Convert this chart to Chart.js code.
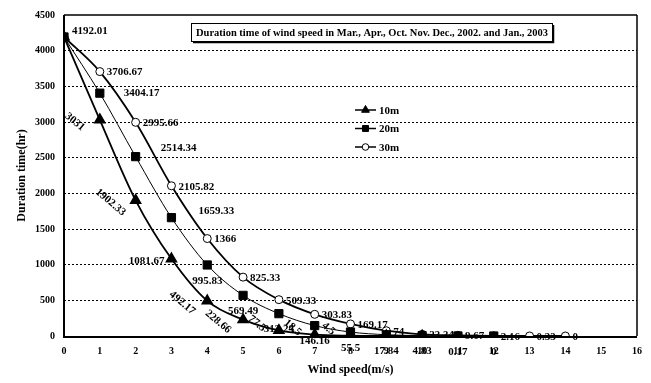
<!DOCTYPE html>
<html>
<head>
<meta charset="utf-8">
<script src="https://cdn.jsdelivr.net/npm/chart.js@4/dist/chart.umd.min.js"></script>
<style>
  html, body { margin: 0; padding: 0; background: #fff; }
  #wrap { width: 651px; height: 383px; position: relative; }
</style>
</head>
<body>
<div id="wrap"><canvas id="c" width="651" height="383"></canvas></div>
<script>
// Wind speed classes (m/s)
const windSpeed = [0, 1, 2, 3, 4, 5, 6, 7, 8, 9, 10, 11, 12, 13, 14];
// Duration time (hr) at each height
const hours10m = [4192.01, 3031, 1902.33, 1081.67, 492.17, 228.66, 77.5, 18.5, 4.5, 1.17, 0];
const hours20m = [4192.01, 3404.17, 2514.34, 1659.33, 995.83, 569.49, 313.24, 146.16, 55.5, 17.84, 4.83, 0.17, 0];
const hours30m = [4192.01, 3706.67, 2995.66, 2105.82, 1366, 825.33, 509.33, 303.83, 169.17, 74.00, 23.34, 9.67, 2.16, 0.33, 0];
// Axis ticks
const xTicks = [0, 1, 2, 3, 4, 5, 6, 7, 8, 9, 10, 11, 12, 13, 14, 15, 16];
const yTicks = [0, 500, 1000, 1500, 2000, 2500, 3000, 3500, 4000, 4500];
const seriesNames = ['10m', '20m', '30m'];
const chartTitle = 'Duration time of wind speed in Mar., Apr., Oct. Nov. Dec., 2002. and Jan., 2003';

const SERIF = '"Liberation Serif", "Times New Roman", serif';
const toPoints = arr => arr.map((v, i) => ({ x: windSpeed[i], y: v }));

// Where each value label sits relative to its marker
function labelPlacement(ds, i) {
  if (ds === 0) {
    if (i === 0) return null;
    if (i === 3) return { dx: -7, dy: 2, align: 'right', rot: 0 };
    if (i >= 9) return null;
    if (i >= 6) return { dx: -22, dy: -7, align: 'center', rot: 40 };
    return { dx: -25, dy: 2, align: 'center', rot: 40 };
  }
  if (ds === 1) {
    if (i === 0) return null;
    if (i === 1) return { dx: 24, dy: 0, align: 'left', rot: 0 };
    if (i === 2) return { dx: 25, dy: -8, align: 'left', rot: 0 };
    if (i === 3) return { dx: 27, dy: -6, align: 'left', rot: 0 };
    return { dx: 0, dy: 16, align: 'center', rot: 0 };
  }
  if (i === 0) return { dx: 8, dy: -6, align: 'left', rot: 0 };
  return { dx: 7, dy: 1, align: 'left', rot: 0 };
}

const valueLabels = {
  id: 'valueLabels',
  afterDatasetsDraw(chart) {
    const ctx = chart.ctx;
    ctx.save();
    ctx.fillStyle = '#000';
    ctx.font = 'bold 11px ' + SERIF;
    ctx.textBaseline = 'middle';
    chart.data.datasets.forEach((dataset, ds) => {
      const meta = chart.getDatasetMeta(ds);
      meta.data.forEach((pt, i) => {
        const p = labelPlacement(ds, i);
        if (!p) return;
        const text = String(dataset.data[i].y);
        ctx.save();
        ctx.translate(pt.x + p.dx, pt.y + p.dy);
        ctx.rotate(p.rot * Math.PI / 180);
        ctx.textAlign = p.align;
        ctx.fillText(text, 0, 0);
        ctx.restore();
      });
    });
    ctx.restore();
  }
};

// Frame around the plotting area
const plotFrame = {
  id: 'plotFrame',
  beforeDatasetsDraw(chart) {
    const { ctx, chartArea: a } = chart;
    ctx.save();
    ctx.strokeStyle = '#000';
    ctx.lineWidth = 1.5;
    ctx.beginPath();
    ctx.moveTo(a.left, a.top); ctx.lineTo(a.right, a.top);
    ctx.moveTo(a.right, a.top); ctx.lineTo(a.right, a.bottom);
    ctx.stroke();
    ctx.lineWidth = 2;
    ctx.beginPath();
    ctx.moveTo(a.left, a.top); ctx.lineTo(a.left, a.bottom + 1); ctx.lineTo(a.right, a.bottom + 1);
    ctx.stroke();
    ctx.restore();
  }
};

// Boxed caption and the series key
const captionAndKey = {
  id: 'captionAndKey',
  afterDraw(chart) {
    const ctx = chart.ctx;
    ctx.save();
    // caption box
    const bx = 191, by = 23, bw = 361, bh = 18;
    ctx.fillStyle = '#fff';
    ctx.fillRect(bx, by, bw, bh);
    ctx.strokeStyle = '#000';
    ctx.lineWidth = 1;
    ctx.strokeRect(bx + 0.5, by + 0.5, bw, bh);
    ctx.lineWidth = 1.5;
    ctx.beginPath();
    ctx.moveTo(bx + 2, by + bh + 1.5); ctx.lineTo(bx + bw + 1.5, by + bh + 1.5); ctx.lineTo(bx + bw + 1.5, by + 2);
    ctx.stroke();
    ctx.font = 'bold 10px ' + SERIF;
    const w10 = ctx.measureText(chartTitle).width;
    const size = 10 * 352 / w10;
    ctx.font = 'bold ' + size.toFixed(2) + 'px ' + SERIF;
    ctx.fillStyle = '#000';
    ctx.textAlign = 'center';
    ctx.textBaseline = 'middle';
    ctx.fillText(chartTitle, bx + bw / 2 + 0.5, by + bh / 2 + 1);

    // key
    const rows = [110, 128.5, 147];
    ctx.textAlign = 'left';
    ctx.font = 'bold 11px ' + SERIF;
    chart.data.datasets.forEach((dataset, k) => {
      const y = rows[k];
      ctx.strokeStyle = '#000';
      ctx.lineWidth = 1.5;
      ctx.beginPath();
      ctx.moveTo(355, y); ctx.lineTo(376, y);
      ctx.stroke();
      ctx.fillStyle = dataset.pointBackgroundColor;
      ctx.strokeStyle = '#000';
      ctx.lineWidth = 1;
      Chart.helpers.drawPoint(ctx, {
        pointStyle: dataset.pointStyle,
        radius: k === 0 ? 4.5 : (k === 1 ? 4.2 : 3.3),
        rotation: 0,
        borderWidth: 1
      }, 365.5, y);
      ctx.fillStyle = '#000';
      ctx.fillText(seriesNames[k], 379, y + 1);
    });
    ctx.restore();
  }
};

new Chart(document.getElementById('c'), {
  type: 'line',
  data: {
    datasets: [
      {
        label: seriesNames[0],
        data: toPoints(hours10m),
        borderColor: '#000',
        borderWidth: 1.8,
        pointStyle: 'triangle',
        pointRadius: 5.5,
        pointBackgroundColor: '#000',
        pointBorderColor: '#000',
        cubicInterpolationMode: 'monotone'
      },
      {
        label: seriesNames[1],
        data: toPoints(hours20m),
        borderColor: '#000',
        borderWidth: 1,
        pointStyle: 'rect',
        pointRadius: 5.8,
        pointBackgroundColor: '#000',
        pointBorderColor: '#000',
        cubicInterpolationMode: 'monotone'
      },
      {
        label: seriesNames[2],
        data: toPoints(hours30m),
        borderColor: '#000',
        borderWidth: 1.8,
        pointStyle: 'circle',
        pointRadius: 4,
        pointBorderWidth: 1,
        pointBackgroundColor: '#fff',
        pointBorderColor: '#000',
        cubicInterpolationMode: 'monotone'
      }
    ]
  },
  options: {
    responsive: false,
    animation: false,
    events: [],
    layout: { padding: { top: 15, right: 8, left: 0, bottom: 0 } },
    plugins: {
      legend: { display: false },
      title: { display: false },
      tooltip: { enabled: false }
    },
    scales: {
      x: {
        type: 'linear',
        min: 0,
        max: 16,
        afterFit: s => { s.height = 47; },
        afterBuildTicks: s => { s.ticks = xTicks.map(v => ({ value: v })); },
        ticks: {
          padding: 9,
          color: '#000',
          font: { family: SERIF, size: 10, weight: 'bold' },
          maxRotation: 0,
          autoSkip: false,
          callback: v => String(v)
        },
        grid: { display: false, drawTicks: false },
        border: { display: false },
        title: {
          display: true,
          text: 'Wind speed(m/s)',
          color: '#000',
          font: { family: SERIF, size: 12, weight: 'bold' },
          padding: { top: 0, bottom: 6 }
        }
      },
      y: {
        type: 'linear',
        min: 0,
        max: 4500,
        afterFit: s => { s.width = 64; },
        afterBuildTicks: s => { s.ticks = yTicks.map(v => ({ value: v })); },
        ticks: {
          padding: 9,
          color: '#000',
          font: { family: SERIF, size: 10, weight: 'bold' },
          callback: v => String(v)
        },
        grid: {
          drawTicks: false,
          lineWidth: 1,
          color: c => (c.tick && (c.tick.value === 0 || c.tick.value === 4500)) ? 'rgba(0,0,0,0)' : '#000'
        },
        border: { display: false, dash: [2, 2] },
        title: {
          display: true,
          text: 'Duration time(hr)',
          color: '#000',
          font: { family: SERIF, size: 12, weight: 'bold' },
          padding: { top: 15, bottom: 0 }
        }
      }
    }
  },
  plugins: [plotFrame, valueLabels, captionAndKey]
});
</script>
</body>
</html>
